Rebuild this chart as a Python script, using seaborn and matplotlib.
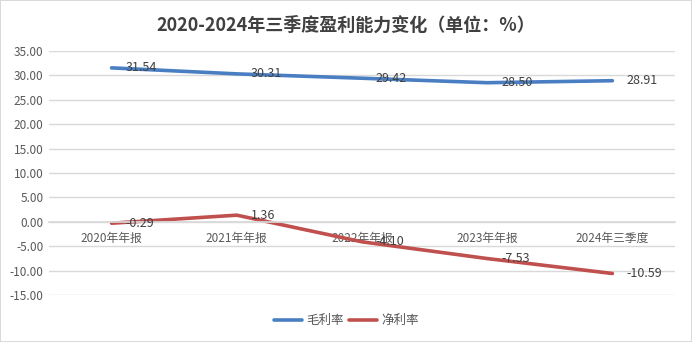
import matplotlib
matplotlib.use("Agg")
import matplotlib.pyplot as plt
import seaborn as sns
import pandas as pd

categories = ["2020年年报", "2021年年报", "2022年年报", "2023年年报", "2024年三季度"]
gross_margin = [31.54, 30.31, 29.42, 28.50, 28.91]
net_margin = [-0.29, 1.36, -4.10, -7.53, -10.59]
series_names = ["毛利率", "净利率"]
yticks = [35, 30, 25, 20, 15, 10, 5, 0, -5, -10, -15]
title = "2020-2024年三季度盈利能力变化（单位：%）"

sns.set_theme(style="white")
plt.rcParams['font.family'] = ['Noto Sans CJK SC', 'DejaVu Sans']

df = pd.DataFrame({
    "cat": categories * 2,
    "x": list(range(len(categories))) * 2,
    "value": gross_margin + net_margin,
    "series": [series_names[0]] * len(categories) + [series_names[1]] * len(categories),
})

colors = {"毛利率": "#4A7EC2", "净利率": "#C0504D"}

fig = plt.figure(figsize=(6.92, 3.42), dpi=100, linewidth=1.2, edgecolor="#D9D9D9")
ax = fig.add_axes([0.0708, 0.1374, 0.9046, 0.7135])

sns.lineplot(data=df, x="x", y="value", hue="series", palette=colors, linewidth=2.6,
             ax=ax, legend=True, sort=False)

ax.set_xlim(-0.5, len(categories) - 0.5)
ax.set_ylim(-15, 35)
ax.set_yticks(yticks)
ax.set_yticklabels([f"{v:.2f}" for v in yticks], fontsize=8.5, color="#595959")
ax.grid(axis="y", color="#D9D9D9", linewidth=1)
ax.set_axisbelow(True)
for s in ["top", "right", "left"]:
    ax.spines[s].set_visible(False)
ax.spines["bottom"].set_position(("data", 0))
ax.spines["bottom"].set_color("#D9D9D9")
ax.set_xticks(range(len(categories)))
ax.set_xticklabels(categories, fontsize=8.5, color="#595959")
ax.tick_params(axis="both", length=0)
ax.tick_params(axis="x", pad=7)
ax.tick_params(axis="y", pad=4)
ax.set_xlabel("")
ax.set_ylabel("")

for vals in (gross_margin, net_margin):
    for i, v in enumerate(vals):
        ax.annotate(f"{v:.2f}", (i, v), xytext=(10, 0), textcoords="offset points",
                    ha="left", va="center", fontsize=9, color="#404040")

fig.suptitle(title, fontsize=13, fontweight="bold", color="#404040", y=0.955)

handles, labels = ax.get_legend_handles_labels()
ax.legend_.remove()
fig.legend(handles, labels, loc="center", bbox_to_anchor=(0.5, 0.062), ncol=2,
           frameon=False, fontsize=9, handlelength=2.3, columnspacing=0.4,
           handletextpad=0.3, labelcolor="#595959")

fig.savefig("out.png", dpi=100)
